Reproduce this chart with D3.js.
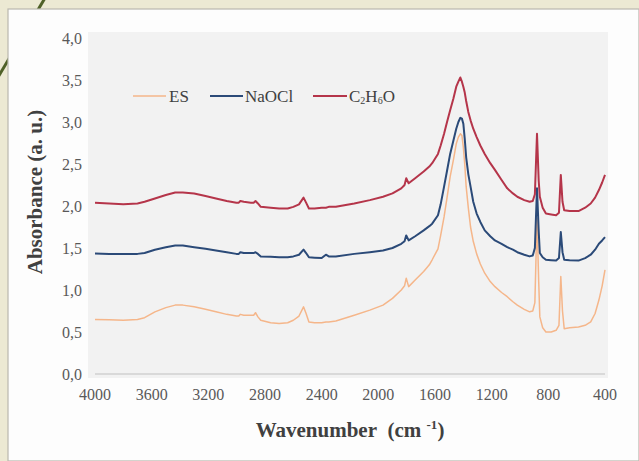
<!DOCTYPE html>
<html>
<head>
<meta charset="utf-8">
<script src="https://cdn.jsdelivr.net/npm/d3@7"></script>
<style>
  html, body { margin: 0; padding: 0; background: #ece9d3; }
  svg { display: block; }
</style>
</head>
<body>
<svg id="chart" width="639" height="461"></svg>
<script>
// ---- data ----
const wavenumbers = [4000,3900,3800,3700,3650,3577,3500,3434,3380,3300,3220,3146,3070,3002,2985,2974,2950,2900,2880,2867,2850,2830,2760,2700,2640,2600,2560,2528,2510,2490,2450,2400,2370,2350,2300,2170,2060,1967,1900,1838,1815,1803,1786,1740,1680,1640,1620,1579,1560,1536,1515,1493,1470,1450,1435,1421,1410,1400,1390,1380,1365,1349,1330,1306,1280,1249,1210,1177,1130,1090,1050,1019,970,932,910,895,880,868,860,840,817,780,745,725,712,700,688,650,587,540,501,470,443,420,400];

const seriesES = [0.65,0.645,0.64,0.65,0.67,0.74,0.79,0.82,0.82,0.80,0.77,0.74,0.71,0.69,0.69,0.71,0.70,0.70,0.70,0.73,0.68,0.64,0.61,0.60,0.61,0.64,0.69,0.80,0.72,0.62,0.61,0.61,0.62,0.62,0.63,0.70,0.76,0.82,0.90,1.00,1.05,1.14,1.04,1.12,1.22,1.30,1.36,1.49,1.65,1.87,2.10,2.35,2.55,2.74,2.82,2.86,2.84,2.70,2.50,2.23,1.98,1.75,1.58,1.43,1.31,1.20,1.10,1.04,0.97,0.92,0.86,0.82,0.77,0.74,0.75,0.85,1.85,1.10,0.68,0.55,0.50,0.50,0.52,0.58,1.16,0.75,0.54,0.55,0.56,0.58,0.62,0.72,0.88,1.05,1.24];

const seriesNaOCl = [1.435,1.43,1.43,1.43,1.44,1.48,1.51,1.53,1.53,1.51,1.49,1.47,1.45,1.43,1.43,1.45,1.44,1.44,1.44,1.45,1.43,1.40,1.395,1.39,1.39,1.40,1.42,1.48,1.44,1.39,1.385,1.38,1.42,1.40,1.40,1.43,1.45,1.47,1.50,1.55,1.58,1.65,1.59,1.64,1.71,1.76,1.79,1.89,2.02,2.23,2.42,2.62,2.78,2.92,3.00,3.05,3.04,2.98,2.80,2.58,2.38,2.23,2.05,1.91,1.81,1.71,1.64,1.59,1.55,1.51,1.48,1.45,1.42,1.40,1.41,1.50,2.21,1.70,1.44,1.39,1.36,1.355,1.35,1.38,1.69,1.45,1.36,1.355,1.35,1.38,1.42,1.48,1.55,1.59,1.63];

const seriesC2H6O = [2.04,2.03,2.02,2.03,2.05,2.09,2.13,2.16,2.16,2.15,2.12,2.09,2.06,2.04,2.04,2.06,2.05,2.04,2.04,2.06,2.03,1.99,1.98,1.97,1.97,1.99,2.02,2.10,2.04,1.97,1.97,1.98,1.98,1.99,1.99,2.03,2.07,2.11,2.15,2.21,2.25,2.33,2.27,2.33,2.41,2.47,2.51,2.62,2.72,2.86,3.00,3.14,3.28,3.42,3.48,3.53,3.48,3.42,3.35,3.25,3.12,3.02,2.92,2.82,2.72,2.62,2.51,2.43,2.31,2.21,2.15,2.11,2.07,2.05,2.06,2.14,2.86,2.30,2.11,1.98,1.91,1.90,1.89,1.92,2.37,2.05,1.95,1.94,1.94,1.98,2.03,2.10,2.19,2.28,2.37];

const seriesNames = ["ES", "NaOCl", "C2H6O"];
const xTicks = [4000,3600,3200,2800,2400,2000,1600,1200,800,400];
const yTicks = [0,0.5,1,1.5,2,2.5,3,3.5,4];

// ---- drawing ----
const svg = d3.select("#chart");
const W = 639, H = 461;
const colors = {"ES": "#f5b68a", "NaOCl": "#2b4a78", "C2H6O": "#b5354a"};
const widths = {"ES": 1.5, "NaOCl": 2, "C2H6O": 2};
const values = {"ES": seriesES, "NaOCl": seriesNaOCl, "C2H6O": seriesC2H6O};

// page background + decorative diagonal + white panel
svg.append("rect").attr("width", W).attr("height", H).attr("fill", "#ece9d3");
svg.append("line").attr("x1", 45).attr("y1", -2).attr("x2", -6).attr("y2", 84)
  .attr("stroke", "#4f6128").attr("stroke-width", 3);
svg.append("rect").attr("x", 8).attr("y", 9).attr("width", W - 8).attr("height", H - 9)
  .attr("fill", "#fdfdfd").attr("stroke", "#b9b8ae").attr("stroke-width", 1.2);

const x = d3.scaleLinear().domain([4000, 400]).range([95, 605]);
const y = d3.scaleLinear().domain([0, 4]).range([374, 38]);

// plot area background
svg.append("rect").attr("x", 88).attr("y", 32).attr("width", 520).attr("height", 346)
  .attr("fill", "#f2f2f2");

const fmt = d3.formatLocale({decimal: ",", thousands: ".", grouping: [3], currency: ["", ""]}).format(".1f");

// x axis line
svg.append("line").attr("x1", x(4000)).attr("x2", x(400)).attr("y1", y(0)).attr("y2", y(0))
  .attr("stroke", "#bfbfbf").attr("stroke-width", 1.2);

const serif = "'Liberation Serif', 'Times New Roman', serif";

// y tick labels
svg.append("g").selectAll("text").data(yTicks).join("text")
  .attr("x", 82).attr("y", d => y(d)).attr("dy", "0.35em")
  .attr("text-anchor", "end").attr("font-family", serif).attr("font-size", 16)
  .attr("fill", "#595959").text(d => fmt(d));

// x tick labels
svg.append("g").selectAll("text").data(xTicks).join("text")
  .attr("x", d => x(d)).attr("y", 400)
  .attr("text-anchor", "middle").attr("font-family", serif).attr("font-size", 16)
  .attr("fill", "#595959").text(d => d);

// series lines
const line = d3.line().x((d, i) => x(wavenumbers[i])).y(d => y(d));
seriesNames.forEach(name => {
  svg.append("path").datum(values[name])
    .attr("d", line).attr("fill", "none")
    .attr("stroke", colors[name]).attr("stroke-width", widths[name])
    .attr("stroke-linejoin", "round");
});

// axis titles
svg.append("text").attr("transform", "translate(42,192) rotate(-90)")
  .attr("text-anchor", "middle").attr("font-family", serif).attr("font-size", 21)
  .attr("font-weight", "bold").attr("fill", "#404040").text("Absorbance (a. u.)");

const xt = svg.append("text").attr("x", 350).attr("y", 437)
  .attr("text-anchor", "middle").attr("font-family", serif).attr("font-size", 21)
  .attr("font-weight", "bold").attr("fill", "#404040");
xt.append("tspan").text("Wavenumber\u00a0\u00a0(cm\u00a0");
xt.append("tspan").attr("font-size", 13).attr("dy", -8).text("-1");
xt.append("tspan").attr("dy", 8).text(")");

// legend
const legendItems = [
  {name: "ES", x1: 133, x2: 166, tx: 169},
  {name: "NaOCl", x1: 210, x2: 243, tx: 245},
  {name: "C2H6O", x1: 313, x2: 347, tx: 349}
];
const ly = 96;
legendItems.forEach(it => {
  svg.append("line").attr("x1", it.x1).attr("x2", it.x2).attr("y1", ly).attr("y2", ly)
    .attr("stroke", colors[it.name]).attr("stroke-width", widths[it.name]);
  const t = svg.append("text").attr("x", it.tx).attr("y", ly + 6)
    .attr("font-family", serif).attr("font-size", 17).attr("fill", "#404040");
  if (it.name === "C2H6O") {
    t.append("tspan").text("C");
    t.append("tspan").attr("font-size", 10).attr("dy", 2).text("2");
    t.append("tspan").attr("dy", -2).text("H");
    t.append("tspan").attr("font-size", 10).attr("dy", 2).text("6");
    t.append("tspan").attr("dy", -2).text("O");
  } else {
    t.text(it.name);
  }
});
</script>
</body>
</html>
